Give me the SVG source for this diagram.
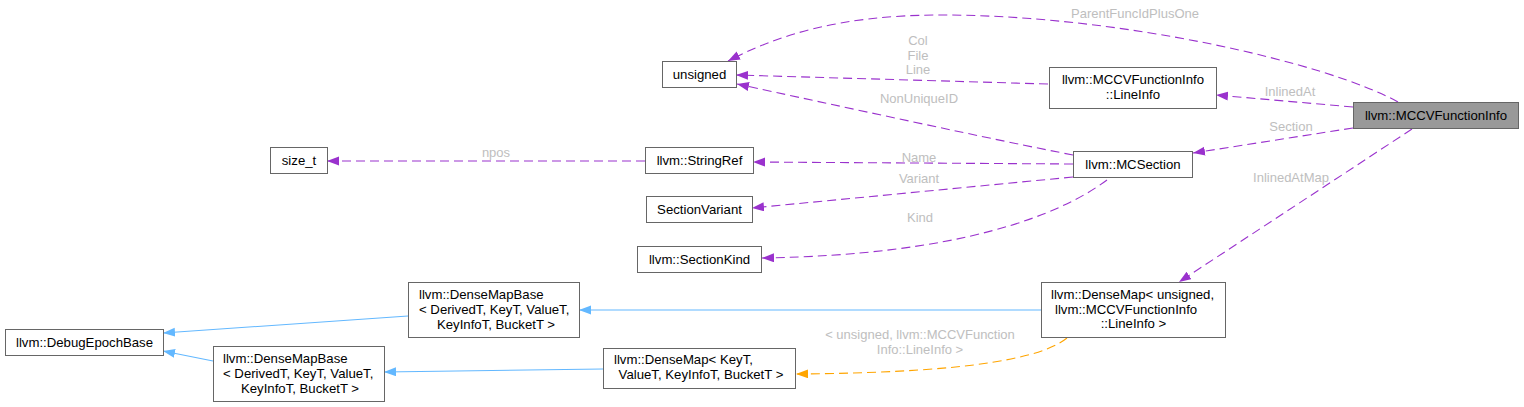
<svg xmlns="http://www.w3.org/2000/svg" width="1524" height="407" viewBox="0 0 1524 407">
<style>
.n rect{fill:#ffffff;stroke:#666666;stroke-width:1}
.n.main rect{fill:#999999}
.n text{font-family:"Liberation Sans",Arial,sans-serif;font-size:13.2px;fill:#000000}
.c{text-anchor:middle}
.e path{fill:none;stroke-width:1.1}
.u{stroke:#9a32cd;stroke-dasharray:9,5;marker-end:url(#ap)}
.i{stroke:#63b8ff;marker-end:url(#ab)}
.t{stroke:#ffa500;stroke-dasharray:9,5;marker-end:url(#ao)}
.lbl text{font-family:"Liberation Sans",Arial,sans-serif;font-size:13px;fill:#bebebe;text-anchor:middle}
</style>
<defs>
<marker id="ap" markerUnits="userSpaceOnUse" markerWidth="14" markerHeight="10" refX="12" refY="4.5" orient="auto"><path d="M0,0 L12,4.5 L0,9 z" fill="#9a32cd" stroke="none"/></marker>
<marker id="ab" markerUnits="userSpaceOnUse" markerWidth="14" markerHeight="10" refX="12" refY="4.5" orient="auto"><path d="M0,0 L12,4.5 L0,9 z" fill="#63b8ff" stroke="none"/></marker>
<marker id="ao" markerUnits="userSpaceOnUse" markerWidth="14" markerHeight="10" refX="12" refY="4.5" orient="auto"><path d="M0,0 L12,4.5 L0,9 z" fill="#ffa500" stroke="none"/></marker>
</defs>
<rect width="1524" height="407" fill="#ffffff"/>
<g id="connectors" class="e">
<path class="u" d="M1398,102 C1330,64 1120,14 935,15 C840,16 780,34 728,61"/>
<path class="u" d="M1048,84 L736,75"/>
<path class="u" d="M1073,155 C1000,141 830,104 737,84"/>
<path class="u" d="M1353,107 L1216,95"/>
<path class="u" d="M1353,128 L1193,153"/>
<path class="u" d="M1412,129 L1179,282"/>
<path class="u" d="M645,161 L327,161"/>
<path class="u" d="M1073,164 L753,162"/>
<path class="u" d="M1073,177 L752,208"/>
<path class="u" d="M1107,180 C1060,215 960,255 762,258"/>
<path class="i" d="M408,316 L163,333"/>
<path class="i" d="M213,361 L163,351"/>
<path class="i" d="M1041,310 L579,310"/>
<path class="i" d="M603,369 L384,372"/>
<path class="t" d="M1067,338 C1030,368 900,373 796,374"/>
</g>
<g id="labels" class="lbl">
<text x="1135" y="18">ParentFuncIdPlusOne</text>
<text x="918" y="45">Col</text>
<text x="918" y="60">File</text>
<text x="918" y="74">Line</text>
<text x="919" y="103">NonUniqueID</text>
<text x="1290" y="96">InlinedAt</text>
<text x="1291" y="131">Section</text>
<text x="1291" y="182">InlinedAtMap</text>
<text x="496" y="157">npos</text>
<text x="919" y="162">Name</text>
<text x="919" y="183">Variant</text>
<text x="920" y="222">Kind</text>
<text x="920" y="339">&lt; unsigned, llvm::MCCVFunction</text>
<text x="920" y="354">Info::LineInfo &gt;</text>
</g>
<g id="node_MCCVFunctionInfo" class="n main"><rect x="1353.5" y="102.5" width="165" height="26"/><text class="c" x="1436" y="119.5">llvm::MCCVFunctionInfo</text></g>
<g id="node_unsigned" class="n"><rect x="662.5" y="61.5" width="74" height="26"/><text class="c" x="699.5" y="78.5">unsigned</text></g>
<g id="node_LineInfo" class="n"><rect x="1049.5" y="67.5" width="167" height="41"/><text class="c" x="1133" y="84">llvm::MCCVFunctionInfo</text><text class="c" x="1133" y="99">::LineInfo</text></g>
<g id="node_MCSection" class="n"><rect x="1073.5" y="151.5" width="119" height="26"/><text class="c" x="1133" y="168.5">llvm::MCSection</text></g>
<g id="node_size_t" class="n"><rect x="270.5" y="147.5" width="57" height="26"/><text class="c" x="299" y="164.5">size_t</text></g>
<g id="node_StringRef" class="n"><rect x="645.5" y="147.5" width="108" height="26"/><text class="c" x="699.5" y="164.5">llvm::StringRef</text></g>
<g id="node_SectionVariant" class="n"><rect x="646.5" y="196.5" width="106" height="26"/><text class="c" x="699.5" y="213.5">SectionVariant</text></g>
<g id="node_SectionKind" class="n"><rect x="637.5" y="246.5" width="124" height="26"/><text class="c" x="699.5" y="263.5">llvm::SectionKind</text></g>
<g id="node_DenseMapBase1" class="n"><rect x="408.5" y="282.5" width="171" height="55"/><text x="419" y="298.5">llvm::DenseMapBase</text><text x="419" y="313.5">&lt; DerivedT, KeyT, ValueT,</text><text class="c" x="496" y="328.5">KeyInfoT, BucketT &gt;</text></g>
<g id="node_DebugEpochBase" class="n"><rect x="5.5" y="329.5" width="158" height="26"/><text class="c" x="84.5" y="346.5">llvm::DebugEpochBase</text></g>
<g id="node_DenseMapBase2" class="n"><rect x="213.5" y="346.5" width="171" height="55"/><text x="223" y="363">llvm::DenseMapBase</text><text x="223" y="378">&lt; DerivedT, KeyT, ValueT,</text><text class="c" x="300" y="393">KeyInfoT, BucketT &gt;</text></g>
<g id="node_DenseMapUnsigned" class="n"><rect x="1041.5" y="282.5" width="184" height="55"/><text x="1051" y="299">llvm::DenseMap&lt; unsigned,</text><text x="1055" y="313.5">llvm::MCCVFunctionInfo</text><text class="c" x="1133.5" y="328">::LineInfo &gt;</text></g>
<g id="node_DenseMapKeyT" class="n"><rect x="603.5" y="348.5" width="192" height="40"/><text x="614" y="364">llvm::DenseMap&lt; KeyT,</text><text class="c" x="701" y="379">ValueT, KeyInfoT, BucketT &gt;</text></g>
</svg>
